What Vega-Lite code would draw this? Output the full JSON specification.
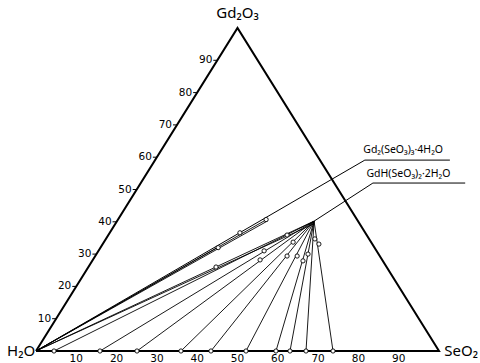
{
  "$schema": "https://vega.github.io/schema/vega-lite/v6.json",
  "autosize": {"type": "none"},
  "width": 403,
  "height": 323,
  "padding": {"left": 36, "top": 28, "right": 41, "bottom": 12},
  "background": "white",
  "config": {"view": {"stroke": null}, "text": {"font": "DejaVu Sans", "color": "black"}},
  "datasets": {
    "edges": [
      {"o": 0, "x": 0, "y": 0},
      {"o": 1, "x": 100, "y": 0},
      {"o": 2, "x": 50, "y": 100},
      {"o": 3, "x": 0, "y": 0}
    ],
    "ties": [
      {"x": 4.47, "y": 0, "x2": 69.0, "y2": 40.2},
      {"x": 15.88, "y": 0, "x2": 69.0, "y2": 40.2},
      {"x": 25.06, "y": 0, "x2": 69.0, "y2": 40.2},
      {"x": 35.98, "y": 0, "x2": 69.0, "y2": 40.2},
      {"x": 43.42, "y": 0, "x2": 69.0, "y2": 40.2},
      {"x": 52.11, "y": 0, "x2": 69.0, "y2": 40.2},
      {"x": 59.55, "y": 0, "x2": 69.0, "y2": 40.2},
      {"x": 63.03, "y": 0, "x2": 69.0, "y2": 40.2},
      {"x": 67.0, "y": 0, "x2": 69.0, "y2": 40.2},
      {"x": 73.7, "y": 0, "x2": 69.0, "y2": 40.2},
      {"x": 0, "y": 0, "x2": 69.0, "y2": 40.2},
      {"x": 0, "y": 0, "x2": 69.0, "y2": 39.4},
      {"x": 0, "y": 0, "x2": 57.5, "y2": 40.9},
      {"x": 0, "y": 0, "x2": 57.5, "y2": 40.3},
      {"x": 0, "y": 0, "x2": 45.5, "y2": 32.4}
    ],
    "leaders": [
      {"g": "a", "o": 0, "x": 0, "y": 0},
      {"g": "a", "o": 1, "x": 81.6, "y": 59.1},
      {"g": "a", "o": 2, "x": 102.7, "y": 59.1},
      {"g": "b", "o": 0, "x": 69.0, "y": 40.2},
      {"g": "b", "o": 1, "x": 83.6, "y": 52.0},
      {"g": "b", "o": 2, "x": 106.5, "y": 52.0}
    ],
    "points": [
      {"x": 4.47, "y": 0}, {"x": 15.88, "y": 0}, {"x": 25.06, "y": 0}, {"x": 35.98, "y": 0},
      {"x": 43.42, "y": 0}, {"x": 52.11, "y": 0}, {"x": 59.55, "y": 0}, {"x": 63.03, "y": 0},
      {"x": 67.0, "y": 0}, {"x": 73.7, "y": 0},
      {"x": 44.67, "y": 26.0}, {"x": 62.3, "y": 35.9}, {"x": 56.6, "y": 31.0}, {"x": 55.6, "y": 28.2},
      {"x": 63.8, "y": 33.7}, {"x": 62.3, "y": 29.4}, {"x": 64.8, "y": 29.4}, {"x": 66.25, "y": 27.9},
      {"x": 67.5, "y": 30.0}, {"x": 69.2, "y": 34.7}, {"x": 70.2, "y": 33.1},
      {"x": 45.2, "y": 32.0}, {"x": 50.6, "y": 36.6}, {"x": 57.1, "y": 40.7}
    ],
    "leftTicks": [
      {"k": "10", "x": 4.0, "x2": 5.0, "y": 10},
      {"k": "20", "x": 9.0, "x2": 10.0, "y": 20},
      {"k": "30", "x": 14.0, "x2": 15.0, "y": 30},
      {"k": "40", "x": 19.0, "x2": 20.0, "y": 40},
      {"k": "50", "x": 24.0, "x2": 25.0, "y": 50},
      {"k": "60", "x": 29.0, "x2": 30.0, "y": 60},
      {"k": "70", "x": 34.0, "x2": 35.0, "y": 70},
      {"k": "80", "x": 39.0, "x2": 40.0, "y": 80},
      {"k": "90", "x": 44.0, "x2": 45.0, "y": 90}
    ],
    "bottomLabels": [
      {"k": "10", "x": 10, "y": -2.6}, {"k": "20", "x": 20, "y": -2.6}, {"k": "30", "x": 30, "y": -2.6},
      {"k": "40", "x": 40, "y": -2.6}, {"k": "50", "x": 50, "y": -2.6}, {"k": "60", "x": 60, "y": -2.6},
      {"k": "70", "x": 70, "y": -2.6}, {"k": "80", "x": 80, "y": -2.6}, {"k": "90", "x": 90, "y": -2.6}
    ],
    "vertexLeft": [{"t": "H₂O", "x": -0.2, "y": 0}],
    "vertexRight": [{"t": "SeO₂", "x": 101.3, "y": 0}],
    "vertexTop": [{"t": "Gd₂O₃", "x": 50, "y": 104.6}],
    "compounds": [
      {"t": "Gd₂(SeO₃)₃·4H₂O", "x": 81.2, "y": 61.3},
      {"t": "GdH(SeO₃)₂·2H₂O", "x": 82.0, "y": 53.9}
    ]
  },
  "encoding": {
    "x": {"field": "x", "type": "quantitative", "scale": {"domain": [0, 100], "nice": false, "zero": false}, "axis": null},
    "y": {"field": "y", "type": "quantitative", "scale": {"domain": [0, 100], "nice": false, "zero": false}, "axis": null}
  },
  "layer": [
    {
      "data": {"name": "ties"},
      "mark": {"type": "rule", "color": "black", "strokeWidth": 0.9},
      "encoding": {"x2": {"field": "x2"}, "y2": {"field": "y2"}}
    },
    {
      "data": {"name": "leaders"},
      "mark": {"type": "line", "color": "black", "strokeWidth": 1},
      "encoding": {"detail": {"field": "g"}, "order": {"field": "o", "type": "quantitative"}}
    },
    {
      "data": {"name": "edges"},
      "mark": {"type": "line", "color": "black", "strokeWidth": 2, "strokeJoin": "miter"},
      "encoding": {"order": {"field": "o", "type": "quantitative"}}
    },
    {
      "data": {"name": "leftTicks"},
      "mark": {"type": "rule", "color": "black", "strokeWidth": 1},
      "encoding": {"x2": {"field": "x2"}}
    },
    {
      "data": {"name": "points"},
      "mark": {"type": "point", "shape": "circle", "size": 18, "filled": false, "fill": "white", "fillOpacity": 1, "stroke": "black", "strokeWidth": 0.9, "opacity": 1}
    },
    {
      "data": {"name": "leftTicks"},
      "mark": {"type": "text", "align": "right", "baseline": "middle", "fontSize": 10.5, "dx": -1},
      "encoding": {"text": {"field": "k"}}
    },
    {
      "data": {"name": "bottomLabels"},
      "mark": {"type": "text", "align": "center", "baseline": "middle", "fontSize": 10.5},
      "encoding": {"text": {"field": "k"}}
    },
    {
      "data": {"name": "vertexLeft"},
      "mark": {"type": "text", "align": "right", "baseline": "middle", "fontSize": 15, "font": "Noto Sans"},
      "encoding": {"text": {"field": "t"}}
    },
    {
      "data": {"name": "vertexRight"},
      "mark": {"type": "text", "align": "left", "baseline": "middle", "fontSize": 15, "font": "Noto Sans"},
      "encoding": {"text": {"field": "t"}}
    },
    {
      "data": {"name": "vertexTop"},
      "mark": {"type": "text", "align": "center", "baseline": "middle", "fontSize": 15, "font": "Noto Sans"},
      "encoding": {"text": {"field": "t"}}
    },
    {
      "data": {"name": "compounds"},
      "mark": {"type": "text", "align": "left", "baseline": "alphabetic", "fontSize": 10.5, "font": "Noto Sans"},
      "encoding": {"text": {"field": "t"}}
    }
  ]
}
